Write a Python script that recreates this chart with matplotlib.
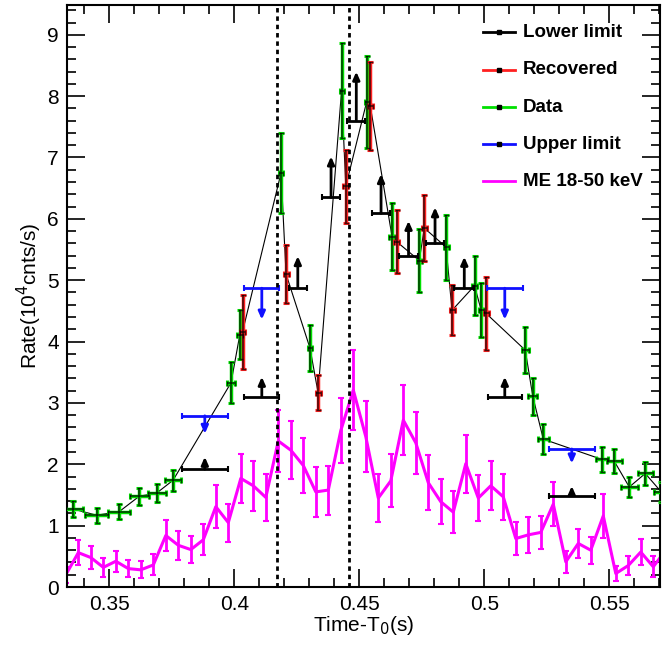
import numpy as np
import matplotlib
matplotlib.use("Agg")
from matplotlib import pyplot as plt
from matplotlib.ticker import MultipleLocator, FixedLocator, FixedFormatter

plt.rcParams['font.family'] = ['Liberation Sans', 'DejaVu Sans']

# ---- data ----
# Data (green)
data_x = [0.3356, 0.3449, 0.3540, 0.3620, 0.3689, 0.3755, 0.3987, 0.4022, 0.4187,
          0.4303, 0.4429, 0.4529, 0.4631, 0.4740, 0.4847, 0.4961, 0.4987, 0.5164,
          0.5194, 0.5236, 0.5470, 0.5520, 0.5580, 0.5644, 0.5708]
data_xerr = [0.0038, 0.0046, 0.0044, 0.0037, 0.0036, 0.0033, 0.0015, 0.0013, 0.0008,
             0.0008, 0.0008, 0.0008, 0.0012, 0.0010, 0.0010, 0.0010, 0.0010, 0.0013,
             0.0018, 0.0023, 0.0025, 0.0029, 0.0033, 0.0030, 0.0030]
data_y = [1.27, 1.17, 1.23, 1.48, 1.53, 1.74, 3.33, 4.11, 6.75,
          3.89, 8.09, 7.90, 5.71, 5.32, 5.54, 4.91, 4.52, 3.86,
          3.11, 2.41, 2.08, 2.05, 1.63, 1.85, 1.55]
data_yerr = [0.13, 0.12, 0.12, 0.14, 0.15, 0.17, 0.33, 0.40, 0.65,
             0.375, 0.78, 0.75, 0.55, 0.52, 0.53, 0.48, 0.44, 0.37,
             0.30, 0.24, 0.21, 0.20, 0.155, 0.18, 0.16]

# Recovered (red)
rec_x = [0.4033, 0.4207, 0.4335, 0.4446, 0.4544, 0.4649, 0.4760, 0.4871, 0.5007]
rec_y = [4.16, 5.10, 3.17, 6.53, 7.84, 5.63, 5.85, 4.51, 4.46]
rec_yerr = [0.60, 0.47, 0.29, 0.60, 0.72, 0.52, 0.54, 0.41, 0.59]
rec_xerr = [0.0010] * len(rec_x)

# Lower limits (black)
low_x = [0.3882, 0.4110, 0.4254, 0.4387, 0.4488, 0.4587, 0.4697, 0.4803, 0.4920, 0.5082, 0.5350]
low_xerr = [0.0091, 0.0070, 0.0037, 0.0037, 0.0036, 0.0036, 0.0037, 0.0037, 0.0040, 0.0069, 0.0093]
low_y = [1.92, 3.10, 4.88, 6.35, 7.60, 6.09, 5.40, 5.60, 4.87, 3.10, 1.49]

# Upper limits (blue)
up_x = [0.3882, 0.4110, 0.5082, 0.5350]
up_xerr = [0.0091, 0.0070, 0.0072, 0.0093]
up_y = [2.79, 4.87, 4.87, 2.25]

# ME 18-50 keV (magenta)
me_x = [0.3326, 0.3376, 0.3426, 0.3476, 0.3526, 0.3576, 0.3626, 0.3676, 0.3726, 0.3776,
        0.3826, 0.3876, 0.3926, 0.3976, 0.4026, 0.4076, 0.4126, 0.4176, 0.4226, 0.4276,
        0.4326, 0.4376, 0.4426, 0.4476, 0.4526, 0.4576, 0.4626, 0.4676, 0.4726, 0.4776,
        0.4826, 0.4876, 0.4926, 0.4976, 0.5026, 0.5076, 0.5126, 0.5176, 0.5226, 0.5276,
        0.5326, 0.5376, 0.5426, 0.5476, 0.5526, 0.5576, 0.5626, 0.5676, 0.5726]
me_y = [0.20, 0.56, 0.48, 0.32, 0.42, 0.30, 0.28, 0.36, 0.84, 0.68,
        0.61, 0.77, 1.31, 1.05, 1.77, 1.65, 1.46, 2.38, 2.23, 1.98,
        1.55, 1.58, 2.55, 3.21, 2.45, 1.45, 1.73, 2.72, 2.35, 1.70,
        1.39, 1.22, 2.01, 1.45, 1.65, 1.47, 0.79, 0.85, 0.89, 1.35,
        0.41, 0.71, 0.60, 1.16, 0.22, 0.35, 0.57, 0.33, 0.60]
me_yerr = [0.13, 0.20, 0.19, 0.16, 0.17, 0.14, 0.14, 0.17, 0.26, 0.24,
           0.22, 0.25, 0.35, 0.31, 0.40, 0.41, 0.38, 0.51, 0.47, 0.45,
           0.41, 0.40, 0.53, 0.65, 0.58, 0.39, 0.43, 0.57, 0.51, 0.45,
           0.37, 0.34, 0.47, 0.37, 0.40, 0.37, 0.27, 0.29, 0.27, 0.36,
           0.18, 0.24, 0.22, 0.36, 0.13, 0.16, 0.21, 0.17, 0.22]

vlines_x = [0.417, 0.446]

legend_labels = ['Lower limit', 'Recovered', 'Data', 'Upper limit', 'ME 18-50 keV']
xtick_vals = [0.35, 0.4, 0.45, 0.5, 0.55]
xtick_labels = ['0.35', '0.4', '0.45', '0.5', '0.55']

# ---- figure ----
fig = plt.figure(figsize=(6.62, 6.45), dpi=100)
ax = fig.add_axes([0.1017, 0.0899, 0.8953, 0.9028])

GREEN = '#00e000'
RED = '#ff2020'
BLUE = '#1010ff'
MAG = '#ff00ff'

# ME curve
ax.errorbar(me_x, me_y, yerr=me_yerr, color=MAG, lw=2.2, elinewidth=2,
            capsize=2, capthick=1.5, zorder=2)

# connecting line through data + recovered
cx = np.array(data_x + rec_x)
cy = np.array(data_y + rec_y)
order = np.argsort(cx)
ax.plot(cx[order], cy[order], color='black', lw=0.8, zorder=3)

# data and recovered: coloured bar with dark core
for xs, ys, xe, ye, col in [(data_x, data_y, data_xerr, data_yerr, GREEN),
                            (rec_x, rec_y, rec_xerr, rec_yerr, RED)]:
    ax.errorbar(xs, ys, xerr=xe, yerr=ye, fmt='none', ecolor=col, elinewidth=2.5,
                capsize=2.2, capthick=2.2, zorder=4)
    ax.errorbar(xs, ys, xerr=xe, yerr=ye, fmt='none', ecolor='black', elinewidth=1.2,
                capsize=1.8, capthick=1.0, alpha=0.7, zorder=5)

# lower limits
ax.errorbar(low_x, low_y, xerr=low_xerr, fmt='none', ecolor='black', elinewidth=2,
            capsize=2, capthick=1.5, zorder=6)
for x, y in zip(low_x, low_y):
    ax.annotate('', xy=(x, y * 1.105), xytext=(x, y),
                arrowprops=dict(arrowstyle='-|>,head_length=0.45,head_width=0.2',
                                color='black', lw=2, shrinkA=0, shrinkB=0,
                                mutation_scale=10), zorder=6)

# upper limits
ax.errorbar(up_x, up_y, xerr=up_xerr, fmt='none', ecolor=BLUE, elinewidth=2,
            capsize=2, capthick=1.5, zorder=6)
for x, y in zip(up_x, up_y):
    ax.annotate('', xy=(x, y * 0.895), xytext=(x, y),
                arrowprops=dict(arrowstyle='-|>,head_length=0.45,head_width=0.2',
                                color=BLUE, lw=2, shrinkA=0, shrinkB=0,
                                mutation_scale=10), zorder=6)

# dashed vertical lines
for vx in vlines_x:
    ax.axvline(vx, color='black', lw=2, ls=(0, (1.6, 1.4)), zorder=7)

# axes
ax.set_xlim(0.3332, 0.5703)
ax.set_ylim(0, 9.49)
ax.xaxis.set_major_locator(FixedLocator(xtick_vals))
ax.xaxis.set_major_formatter(FixedFormatter(xtick_labels))
ax.xaxis.set_minor_locator(MultipleLocator(0.01))
ax.yaxis.set_major_locator(MultipleLocator(1))
ax.yaxis.set_minor_locator(MultipleLocator(0.2))
ax.tick_params(which='both', direction='in', top=True, right=True, width=1.2,
               labelsize=15, colors='black')
ax.tick_params(which='major', length=13, pad=6)
ax.tick_params(which='minor', length=6.5)
for s in ax.spines.values():
    s.set_linewidth(1.5)

ax.set_xlabel('Time-T$_0$(s)', fontsize=15, labelpad=0)
ax.set_ylabel('Rate(10$^4$cnts/s)', fontsize=15, labelpad=2)

# legend drawn by hand
leg_colors = ['black', RED, GREEN, BLUE, MAG]
leg_rows = [0.9530, 0.8883, 0.8243, 0.7602, 0.6967]
for lab, col, yy in zip(legend_labels, leg_colors, leg_rows):
    ax.plot([0.701, 0.755], [yy, yy], color=col, lw=2, transform=ax.transAxes,
            clip_on=False, zorder=8)
    if lab != 'ME 18-50 keV':
        ax.plot([0.728], [yy], 's', color='black', ms=2.2, transform=ax.transAxes, zorder=9)
    ax.text(0.768, yy, lab, transform=ax.transAxes, fontsize=13.5,
            fontweight='bold', va='center', ha='left')

fig.savefig('out.png', dpi=100)
